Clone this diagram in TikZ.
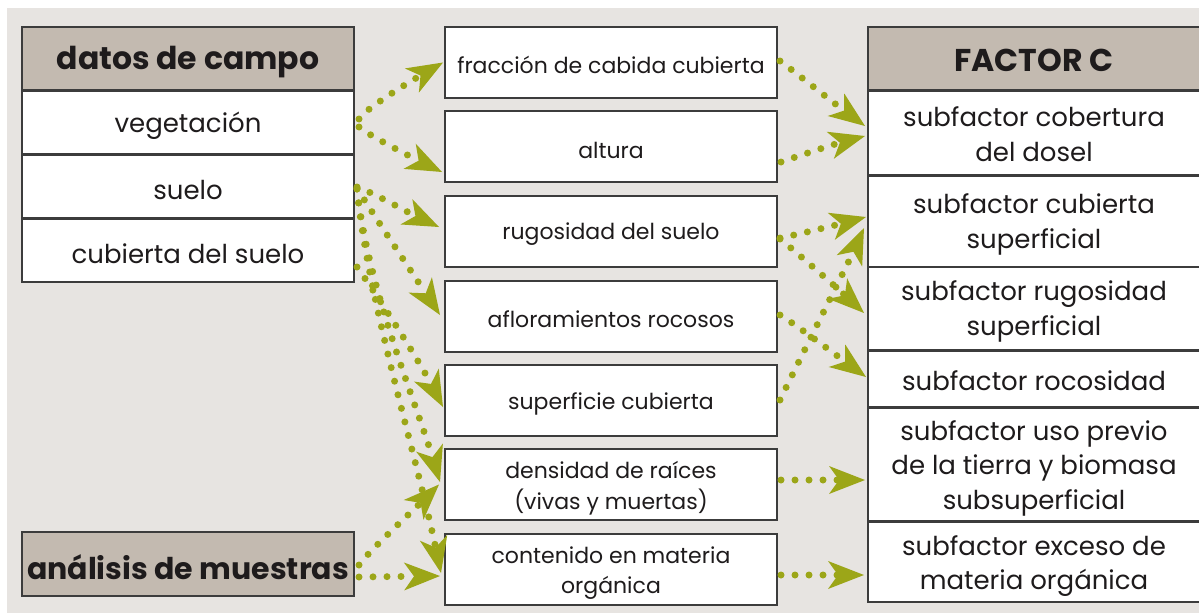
\documentclass[tikz,border=0pt]{standalone}
\usepackage{fontspec}
\setmainfont{Poppins}
\usetikzlibrary{arrows.meta,calc}
\definecolor{bgc}{RGB}{231,228,225}
\definecolor{hdr}{RGB}{195,186,176}
\definecolor{olivearr}{RGB}{156,166,24}
\definecolor{ink}{RGB}{30,27,28}
\definecolor{frame}{RGB}{60,60,60}
\begin{document}
\begin{tikzpicture}[x=1pt,y=-1pt,
  box/.style={draw=frame, line width=1.5pt, fill=white, inner sep=0pt, outer sep=0pt,
    anchor=north west, minimum width=332pt},
  lbox/.style={box, minimum height=63pt},
  hbox/.style={box, fill=hdr},
  mbox/.style={box, minimum height=71pt},
  txt/.style={inner sep=0pt, text=ink, align=center, font=\fontsize{26}{34.5}\selectfont},
  htxt/.style={txt, font=\fontsize{31.5}{36}\selectfont\bfseries},
  mtxt/.style={txt, font=\fontsize{22}{30.5}\selectfont},
  conn/.style={draw=olivearr, line width=7pt, line cap=round, dash pattern=on 0pt off 14pt,
    -{Stealth[length=36pt,width=28pt,inset=10pt,line width=0pt,fill=olivearr]}}]
\useasboundingbox (0,0) rectangle (1199,613);
\fill[white] (0,0) rectangle (1199,613);
\fill[bgc] (7,8) rectangle (1199,613);
% left column
\node[hbox, minimum height=63pt] (ldh) at (22,27) {};
\node[lbox] (veg) at (22,91) {};
\node[lbox] (sue) at (22,155) {};
\node[lbox] (cub) at (22,219) {};
\node[hbox, minimum height=64pt] (ana) at (22,532) {};
\node[htxt] (ldh-t) at ($(ldh.center)+(0,4)$) {datos de campo};
\node[txt] (veg-t) at ($(veg.center)+(0,3.5)$) {vegetación};
\node[txt] (sue-t) at ($(sue.center)+(0,3)$) {suelo};
\node[txt] (cub-t) at ($(cub.center)+(0,3)$) {cubierta del suelo};
\node[htxt, font=\fontsize{30}{36}\selectfont\bfseries] (ana-t) at ($(ana.center)+(0,3)$) {análisis de muestras};
% middle column
\node[mbox] (frac) at (445,27) {};
\node[mbox] (alt) at (445,111) {};
\node[mbox] (rug) at (445,196) {};
\node[mbox] (aflo) at (445,281) {};
\node[mbox] (sup) at (445,365) {};
\node[mbox] (dens) at (445,449) {};
\node[mbox] (cont) at (445,534) {};
\node[mtxt] (frac-t) at ($(frac.center)+(0,2)$) {fracción de cabida cubierta};
\node[mtxt] (alt-t) at ($(alt.center)+(0,3.5)$) {altura};
\node[mtxt] (rug-t) at ($(rug.center)+(0,3)$) {rugosidad del suelo};
\node[mtxt] (aflo-t) at ($(aflo.center)+(0,3)$) {afloramientos rocosos};
\node[mtxt] (sup-t) at ($(sup.center)+(0,3.5)$) {superficie cubierta};
\node[mtxt] (dens-t) at ($(dens.center)+(0,3.5)$) {densidad de raíces\\(vivas y muertas)};
\node[mtxt] (cont-t) at ($(cont.center)+(0,3.5)$) {contenido en materia\\orgánica};
% right column
\node[hbox, minimum height=63pt] (fch) at (868,27) {};
\node[box, minimum height=84pt] (cob) at (868,91) {};
\node[box, minimum height=91pt] (csup) at (868,176) {};
\node[box, minimum height=83pt] (rsup) at (868,267) {};
\node[box, minimum height=56pt] (roc) at (868,351) {};
\node[box, minimum height=113pt] (uso) at (868,408) {};
\node[box, minimum height=80pt] (exc) at (868,522) {};
\node[htxt] (fch-t) at ($(fch.center)+(0,2)$) {FACTOR C};
\node[txt] (cob-t) at ($(cob.center)+(0,1)$) {subfactor cobertura\\del dosel};
\node[txt] (csup-t) at ($(csup.center)+(0,3)$) {subfactor cubierta\\superficial};
\node[txt] (rsup-t) at ($(rsup.center)+(0,3)$) {subfactor rugosidad\\superficial};
\node[txt] (roc-t) at ($(roc.center)+(0,1.5)$) {subfactor rocosidad};
\node[txt] (uso-t) at ($(uso.center)+(0,3.5)$) {subfactor uso previo\\de la tierra y biomasa\\subsuperficial};
\node[txt] (exc-t) at ($(exc.center)+(0,4)$) {subfactor exceso de\\materia orgánica};
% connectors left
\draw[conn] ($(veg.east)+(5,-3.5)$) .. controls +(5,-9) and +(-38,22) .. ($(frac.west)+(-2,0)$);
\draw[conn] ($(veg.east)+(5,4.5)$) .. controls +(6,6) and +(-35,-17) .. ($(alt.west)+(-3,25.5)$);
\draw[conn] ($(sue.east)+(3,0.5)$) .. controls +(15,5) and +(-30,-14) .. ($(rug.west)+(-6,-4.5)$);
\draw[conn] ($(sue.east)+(3,1.5)$) .. controls +(8,14) and +(-25,-38) .. ($(aflo.west)+(-5,-1.5)$);
\draw[conn] ($(sue.east)+(3,2.5)$) .. controls +(11,100) and +(-25,-82) .. ($(dens.west)+(-5,-2.5)$);
\draw[conn] ($(sue.east)+(3,2.5)$) .. controls +(11,112) and +(-26,-123) .. ($(cont.west)+(-4,3.5)$);
\draw[conn] ($(cub.east)+(3,16.5)$) .. controls +(20,28) and +(-25,-48) .. ($(sup.west)+(-2,6.5)$);
\draw[conn] ($(ana.east)+(5,1)$) .. controls +(8,-12) and +(-25,25) .. ($(dens.west)+(-6,0)$);
\draw[conn] ($(ana.east)+(5,13)$) -- ($(cont.west)+(-5,6.5)$);
% connectors right
\draw[conn] ($(frac.east)+(3,-1.5)$) .. controls +(15,11) and +(-30,-22) .. ($(cob.west)+(-3,-7)$);
\draw[conn] ($(alt.east)+(4,15.5)$) .. controls +(20,-7) and +(-30,8) .. ($(cob.west)+(-3,3)$);
\draw[conn] ($(rug.east)+(3,6.5)$) .. controls +(20,-4) and +(-30,8) .. ($(csup.west)+(-2,-4.5)$);
\draw[conn] ($(rug.east)+(3,7.5)$) .. controls +(15,12) and +(-28,-26) .. ($(rsup.west)+(-4,4.5)$);
\draw[conn] ($(sup.east)+(3,-0.5)$) .. controls +(6,-13) and +(-12,27) .. ($(csup.west)+(-4,6.5)$);
\draw[conn] ($(aflo.east)+(3,-1.5)$) .. controls +(15,9) and +(-30,-22) .. ($(roc.west)+(-2,-2)$);
\draw[conn] ($(dens.east)+(4,-4.5)$) -- ($(uso.west)+(-3,15.5)$);
\draw[conn] ($(cont.east)+(4,5.5)$) -- ($(exc.west)+(-4,13)$);
\end{tikzpicture}
\end{document}
